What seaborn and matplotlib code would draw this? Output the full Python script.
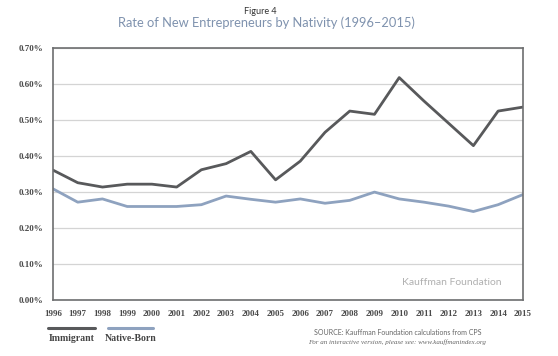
import matplotlib.pyplot as plt
import seaborn as sns
import pandas as pd
from matplotlib.lines import Line2D
from matplotlib.ticker import FuncFormatter

years = list(range(1996, 2016))
immigrant = [0.361, 0.326, 0.314, 0.322, 0.322, 0.314, 0.362, 0.379, 0.413, 0.334,
             0.386, 0.466, 0.525, 0.516, 0.618, 0.553, 0.491, 0.429, 0.525, 0.536]
native_born = [0.309, 0.272, 0.281, 0.260, 0.260, 0.260, 0.265, 0.289, 0.280, 0.272,
               0.281, 0.269, 0.277, 0.300, 0.281, 0.272, 0.261, 0.246, 0.265, 0.293]

df = pd.DataFrame({'year': years * 2,
                   'rate': immigrant + native_born,
                   'group': ['Immigrant'] * 20 + ['Native-Born'] * 20})

dark = '#58595b'
blue = '#8ea2bf'

sns.set_style('white')
plt.rcParams['font.family'] = ['Liberation Serif', 'DejaVu Serif']

fig = plt.figure(figsize=(5.58, 3.56), dpi=100)
ax = fig.add_axes([0.095, 0.157, 0.842, 0.708])

sns.lineplot(data=df, x='year', y='rate', hue='group', palette=[dark, blue],
             linewidth=2, ax=ax, legend=False)

ax.set_xlim(1996, 2015)
ax.set_ylim(0, 0.70)
ax.set_xticks(years)
ax.set_yticks([i / 100 for i in range(0, 71, 10)])
ax.yaxis.set_major_formatter(FuncFormatter(lambda v, p: f'{v:.2f}%'))
ax.grid(axis='y', color='#d4d4d4', linewidth=0.9)
ax.set_axisbelow(True)
ax.set_xlabel('')
ax.set_ylabel('')
for s in ax.spines.values():
    s.set_color('#6d6e70')
    s.set_linewidth(1.2)
ax.tick_params(axis='both', direction='out', length=4, width=1, color='#6d6e70',
               labelsize=6.5, labelcolor='#4a4a4a', pad=3)
for lab in ax.get_xticklabels() + ax.get_yticklabels():
    lab.set_fontweight('bold')

ax.text(0.955, 0.07, 'Kauffman Foundation', transform=ax.transAxes, ha='right',
        va='center', fontsize=7.5, color='#b0b0b0', family=['Lato', 'DejaVu Sans'])

fig.text(0.466, 0.967, 'Figure 4', ha='center', va='center', fontsize=6.5,
         color='#333333', family=['Lato', 'DejaVu Sans'])
fig.text(0.477, 0.935, 'Rate of New Entrepreneurs by Nativity (1996\u20132015)',
         ha='center', va='center', fontsize=9.3, color='#7f92ae',
         family=['Lato', 'DejaVu Sans'])

# legend below the chart
fig.add_artist(Line2D([0.086, 0.170], [0.079, 0.079], color=dark, linewidth=2.2))
fig.add_artist(Line2D([0.194, 0.274], [0.079, 0.079], color=blue, linewidth=2.2))
fig.text(0.128, 0.050, 'Immigrant', ha='center', va='center', fontsize=7,
         color='#444444', fontweight='bold')
fig.text(0.234, 0.050, 'Native-Born', ha='center', va='center', fontsize=7,
         color='#444444', fontweight='bold')

fig.text(0.712, 0.066, 'SOURCE: Kauffman Foundation calculations from CPS',
         ha='center', va='center', fontsize=5, color='#666666',
         family=['Lato', 'DejaVu Sans'])
fig.text(0.712, 0.040, 'For an interactive version, please see: www.kauffmanindex.org',
         ha='center', va='center', fontsize=5, color='#666666', style='italic')

fig.savefig('out.png', dpi=100)
